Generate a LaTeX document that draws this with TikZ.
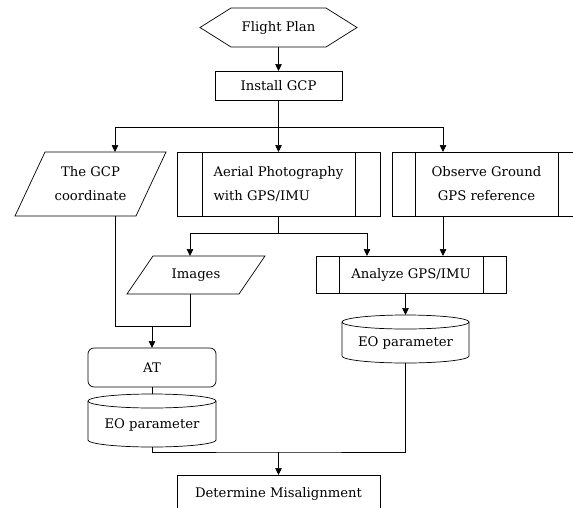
\documentclass[tikz,border=0pt]{standalone}
\usepackage{fontspec}
\setmainfont{DejaVu Serif}
\usetikzlibrary{arrows.meta}

\begin{document}
\begin{tikzpicture}[x=1pt,y=-1pt,line width=0.7pt,
  every node/.style={inner sep=0,outer sep=0,font=\fontsize{13.2}{24}\selectfont},
  arr/.style={-{Triangle[length=7pt,width=6.5pt]}},
  box/.style 2 args={draw,minimum width=#1,minimum height=#2},
  sub/.style={append after command={\pgfextra{\draw
    ([xshift=#1]\tikzlastnode.north west) -- ([xshift=#1]\tikzlastnode.south west)
    ([xshift=-#1]\tikzlastnode.north east) -- ([xshift=-#1]\tikzlastnode.south east);}}},
  io/.style={append after command={\pgfextra{\draw
    ([xshift=#1]\tikzlastnode.north west) -- ([xshift=#1]\tikzlastnode.north east)
    -- ([xshift=-#1]\tikzlastnode.south east) -- ([xshift=-#1]\tikzlastnode.south west) -- cycle;}}},
  hexa/.style={append after command={\pgfextra{\draw
    (\tikzlastnode.north west) -- (\tikzlastnode.north east) -- ([xshift=#1]\tikzlastnode.east)
    -- (\tikzlastnode.south east) -- (\tikzlastnode.south west) -- ([xshift=-#1]\tikzlastnode.west) -- cycle;}}},
  store/.style={text height=18pt,append after command={\pgfextra{\draw
    (\tikzlastnode.north) ellipse [x radius=#1,y radius=7pt];
    \draw (\tikzlastnode.north west) -- (\tikzlastnode.south west)
    arc [start angle=180,end angle=360,x radius=#1,y radius=7pt] -- (\tikzlastnode.north east);}}}
  ]
\useasboundingbox (0,0) rectangle (573,507);
\clip (0,0) rectangle (573,507);
\node[hexa=31pt,minimum width=95pt,minimum height=39pt] (plan) at (278.5,27.5) {Flight Plan};
\node[box={127pt}{29pt}] (install) at (278.5,85.5) {Install GCP};
\node[io=15pt,minimum width=121pt,minimum height=64pt,align=center] (gcpcoord) at (90.5,184) {The GCP\\coordinate};
\node[box={203pt}{64pt},sub=25pt,align=left] (aerial) at (278.5,184) {Aerial Photography\\with GPS/IMU};
\node[box={189pt}{64pt},sub=23pt,align=center] (observe) at (486.5,184) {Observe Ground\\GPS reference};
\node[io=13pt,minimum width=112pt,minimum height=38pt] (images) at (196,275) {Images};
\node[box={190pt}{37pt},sub=23pt] (analyze) at (411,274.5) {Analyze GPS/IMU};
\node[store=63.5pt,minimum width=127pt,minimum height=34pt] (eoR) at (405.5,339) {EO parameter};
\node[draw,rounded corners=6pt,minimum width=128pt,minimum height=39pt] (at) at (152,367.5) {AT};
\node[store=64pt,minimum width=128pt,minimum height=39pt] (eoL) at (152,420.5) {EO parameter};
\node[box={203pt}{38pt}] (misalign) at (278.5,494) {Determine Misalignment};
\coordinate (j1) at (278.5,127);
\coordinate (j2) at (278.5,233);
\coordinate (j3) at (152,326);
\coordinate (j4) at (278.5,452);
\draw[arr] (plan) -- (install);
\draw (install) -- (j1);
\draw[arr] (j1) -| ([xshift=24.5pt]gcpcoord.north);
\draw[arr] (j1) -| ([xshift=-43.5pt]observe.north);
\draw[arr] (j1) -- (aerial);
\draw (aerial) -- (j2);
\draw[arr] (j2) -| ([xshift=-6pt]images.north);
\draw[arr] (j2) -| ([xshift=-44pt]analyze.north);
\draw[arr] ([xshift=-43.5pt]observe.south) -- ([xshift=32pt]analyze.north);
\draw ([xshift=24.5pt]gcpcoord.south) |- ([xshift=-6pt]images.south |- j3) -- ([xshift=-6pt]images.south);
\draw[arr] (j3) -- (at);
\draw (at) -- ([yshift=7pt]eoL.north);
\draw[arr] (analyze.south -| eoR) -- ([yshift=7pt]eoR.north);
\draw ([yshift=-7pt]eoL.south) |- (j4) -| ([yshift=-7pt]eoR.south);
\draw[arr] (j4) -- (misalign);
\end{tikzpicture}
\end{document}
